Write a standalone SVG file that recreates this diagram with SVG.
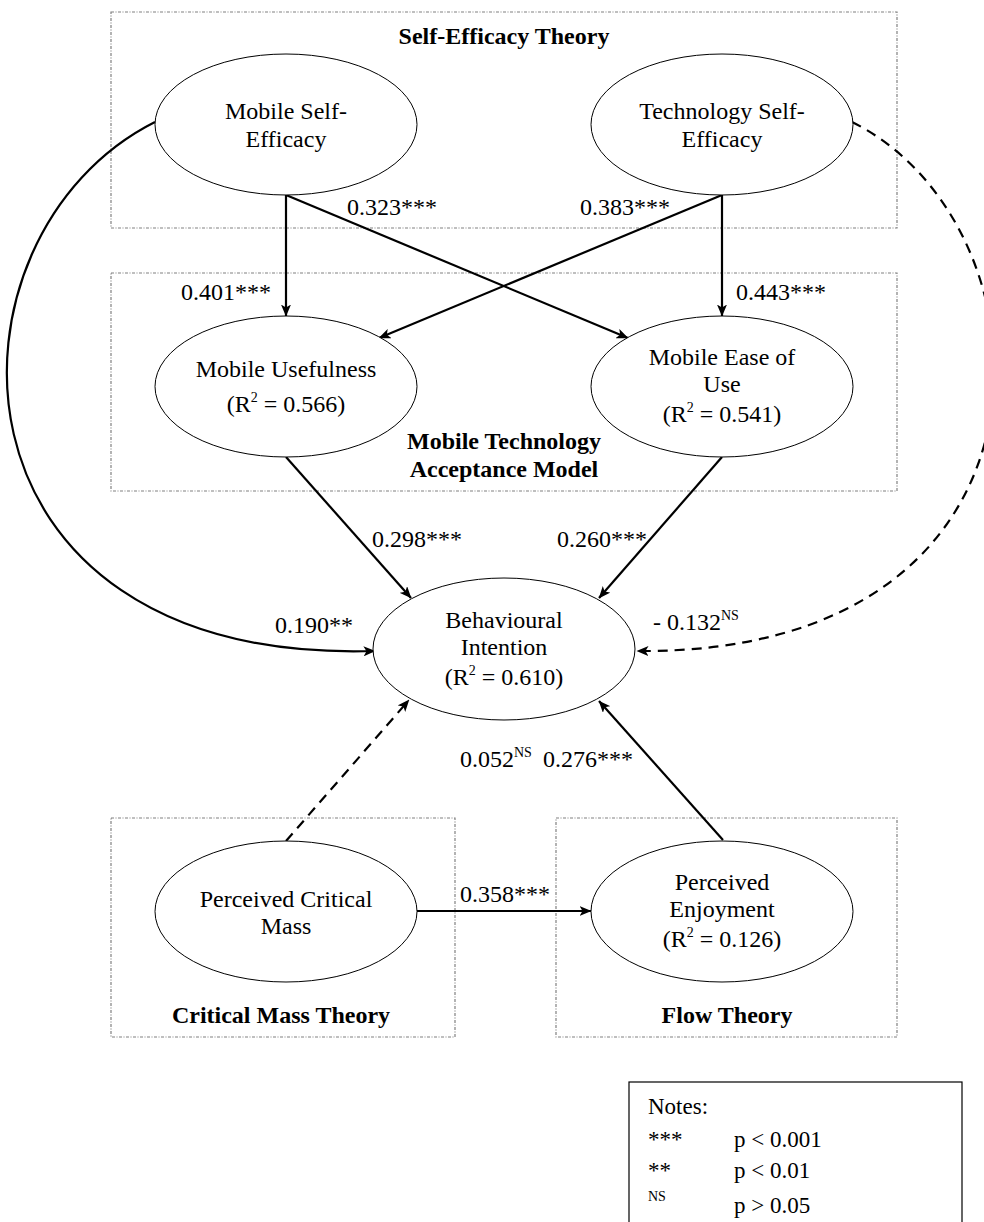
<svg xmlns="http://www.w3.org/2000/svg" width="984" height="1222" viewBox="0 0 984 1222">
<defs>
<style>
.frame{fill:none;stroke:#808080;stroke-width:1.2;stroke-dasharray:3 1.5 1 1.5}
.node{fill:#fff;stroke:#000;stroke-width:1}
.t{font-family:"Liberation Serif","Times New Roman",serif;font-size:24px;fill:#000}
.b{font-family:"Liberation Serif","Times New Roman",serif;font-size:24px;font-weight:bold;fill:#000}
.c{text-anchor:middle}
.lab{font-family:"Liberation Serif","Times New Roman",serif;font-size:24px;fill:#000}
.n{font-family:"Liberation Serif","Times New Roman",serif;font-size:23px;fill:#000}
.ns{font-family:"Liberation Serif","Times New Roman",serif;font-size:14px;fill:#000}
.edge{fill:none;stroke:#000;stroke-width:2.2}
.dash{stroke-dasharray:10 7}
</style>
<marker id="ah" viewBox="0 0 12 10" refX="11.5" refY="5" markerWidth="12" markerHeight="10" markerUnits="userSpaceOnUse" orient="auto">
<path d="M0,0 L12,5 L0,10 L3,5 z" fill="#000"/>
</marker>
</defs>
<rect width="984" height="1222" fill="#fff"/>

<g id="frames">
<rect class="frame" x="111" y="12" width="786" height="216"/>
<rect class="frame" x="111" y="273" width="786" height="218"/>
<rect class="frame" x="111" y="818" width="344" height="219"/>
<rect class="frame" x="556" y="818" width="341" height="219"/>
<text class="b c" x="504" y="44">Self-Efficacy Theory</text>
<text class="b c" x="504" y="449">Mobile Technology</text>
<text class="b c" x="504" y="477">Acceptance Model</text>
<text class="b c" x="281" y="1023">Critical Mass Theory</text>
<text class="b c" x="727" y="1023">Flow Theory</text>
</g>

<g id="connectors">
<line class="edge" x1="286" y1="195" x2="286" y2="316" marker-end="url(#ah)"/>
<line class="edge" x1="286" y1="195" x2="628" y2="338" marker-end="url(#ah)"/>
<line class="edge" x1="722" y1="195" x2="379" y2="338" marker-end="url(#ah)"/>
<line class="edge" x1="722" y1="195" x2="722" y2="316" marker-end="url(#ah)"/>
<line class="edge" x1="286" y1="457" x2="411" y2="598" marker-end="url(#ah)"/>
<line class="edge" x1="722" y1="457" x2="599" y2="598" marker-end="url(#ah)"/>
<path class="edge" d="M155,122 C-70,235 -70,665 375,651" marker-end="url(#ah)"/>
<path class="edge dash" d="M852,122 C1060,225 1080,655 637,651" marker-end="url(#ah)"/>
<line class="edge dash" x1="286" y1="841" x2="409" y2="700" marker-end="url(#ah)"/>
<line class="edge" x1="723" y1="840" x2="599" y2="701" marker-end="url(#ah)"/>
<line class="edge" x1="417" y1="911" x2="591" y2="911" marker-end="url(#ah)"/>
</g>

<g id="n-mse">
<ellipse class="node" cx="286" cy="124.5" rx="131" ry="70.5"/>
<text class="t c" x="286" y="119">Mobile Self-</text>
<text class="t c" x="286" y="147">Efficacy</text>
</g>
<g id="n-tse">
<ellipse class="node" cx="722" cy="124.5" rx="131" ry="70.5"/>
<text class="t c" x="722" y="119">Technology Self-</text>
<text class="t c" x="722" y="147">Efficacy</text>
</g>
<g id="n-mu">
<ellipse class="node" cx="286" cy="386.5" rx="131" ry="70.5"/>
<text class="t c" x="286" y="377">Mobile Usefulness</text>
<text class="t c" x="286" y="412">(R<tspan font-size="14" dy="-10">2</tspan><tspan dy="10"> = 0.566)</tspan></text>
</g>
<g id="n-meu">
<ellipse class="node" cx="722" cy="386.5" rx="131" ry="70.5"/>
<text class="t c" x="722" y="365">Mobile Ease of</text>
<text class="t c" x="722" y="392">Use</text>
<text class="t c" x="722" y="422">(R<tspan font-size="14" dy="-10">2</tspan><tspan dy="10"> = 0.541)</tspan></text>
</g>
<g id="n-bi">
<ellipse class="node" cx="504" cy="649" rx="131" ry="71"/>
<text class="t c" x="504" y="628">Behavioural</text>
<text class="t c" x="504" y="655">Intention</text>
<text class="t c" x="504" y="685">(R<tspan font-size="14" dy="-10">2</tspan><tspan dy="10"> = 0.610)</tspan></text>
</g>
<g id="n-pcm">
<ellipse class="node" cx="286" cy="911.5" rx="131" ry="70.5"/>
<text class="t c" x="286" y="907">Perceived Critical</text>
<text class="t c" x="286" y="934">Mass</text>
</g>
<g id="n-pe">
<ellipse class="node" cx="722" cy="911.5" rx="131" ry="70.5"/>
<text class="t c" x="722" y="890">Perceived</text>
<text class="t c" x="722" y="917">Enjoyment</text>
<text class="t c" x="722" y="947">(R<tspan font-size="14" dy="-10">2</tspan><tspan dy="10"> = 0.126)</tspan></text>
</g>

<g id="labels">
<text class="lab" x="347" y="215">0.323***</text>
<text class="lab" x="580" y="215">0.383***</text>
<text class="lab" x="181" y="300">0.401***</text>
<text class="lab" x="736" y="300">0.443***</text>
<text class="lab" x="372" y="547">0.298***</text>
<text class="lab" x="557" y="547">0.260***</text>
<text class="lab" x="275" y="633">0.190**</text>
<text class="lab" x="653" y="630">- 0.132<tspan font-size="14" dy="-10">NS</tspan></text>
<text class="lab" x="460" y="767">0.052<tspan font-size="14" dy="-10">NS</tspan></text>
<text class="lab" x="543" y="767">0.276***</text>
<text class="lab" x="460" y="902">0.358***</text>
</g>

<g id="notes">
<rect x="629" y="1082" width="333" height="160" fill="#fff" stroke="#000" stroke-width="1.2"/>
<text class="n" x="648" y="1114">Notes:</text>
<text class="n" x="648" y="1147">***</text>
<text class="n" x="734" y="1147">p &lt; 0.001</text>
<text class="n" x="648" y="1178">**</text>
<text class="n" x="734" y="1178">p &lt; 0.01</text>
<text class="ns" x="648" y="1201">NS</text>
<text class="n" x="734" y="1213">p &gt; 0.05</text>
</g>
</svg>
